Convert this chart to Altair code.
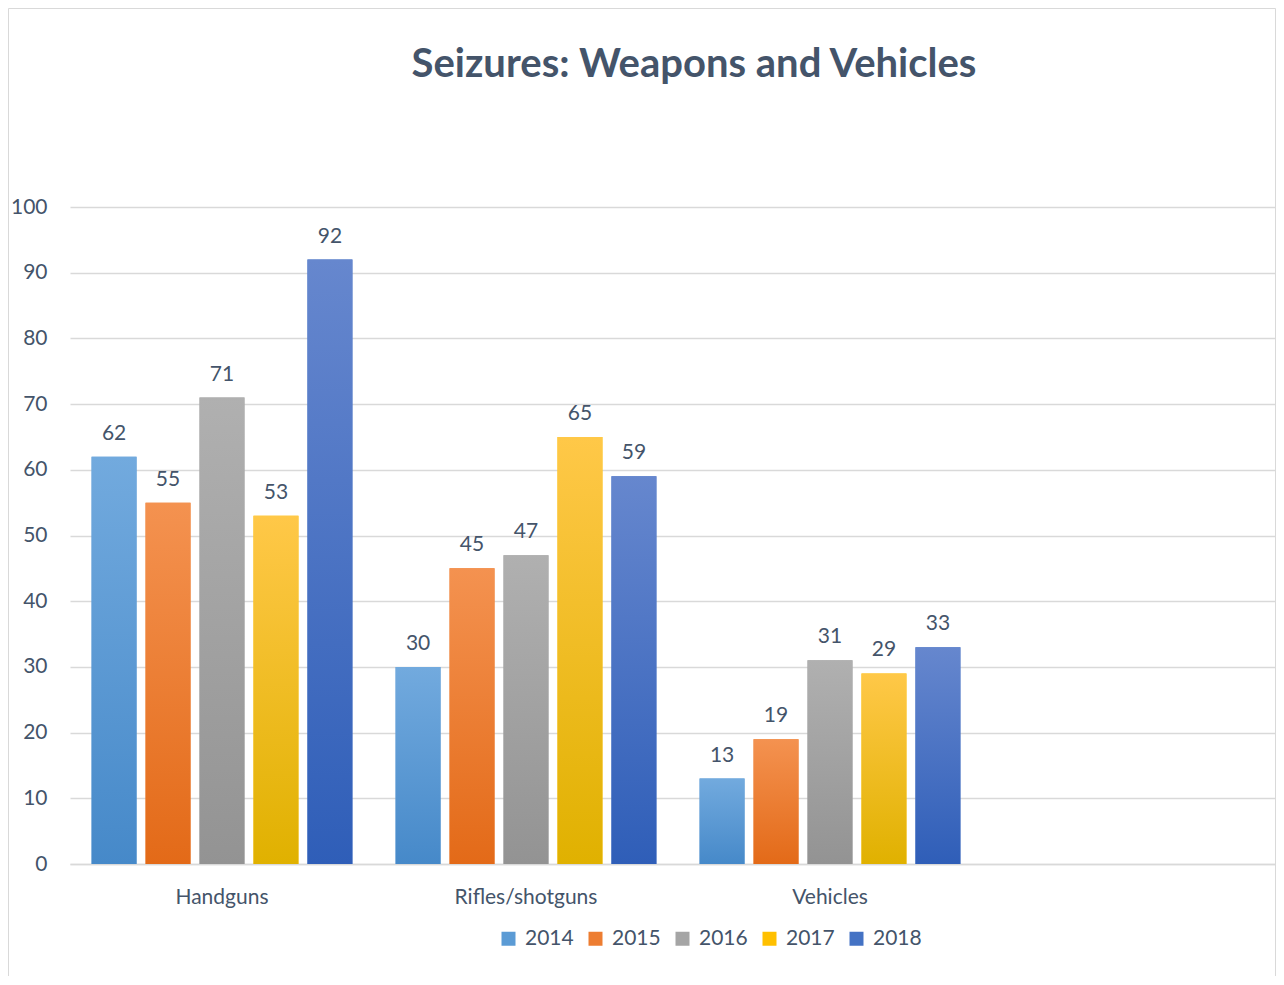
import altair as alt
import pandas as pd

categories = ["Handguns", "Rifles/shotguns", "Vehicles"]
years = ["2014", "2015", "2016", "2017", "2018"]
v2014 = [62, 30, 13]
v2015 = [55, 45, 19]
v2016 = [71, 47, 31]
v2017 = [53, 65, 29]
v2018 = [92, 59, 33]
series = {"2014": v2014, "2015": v2015, "2016": v2016, "2017": v2017, "2018": v2018}

base_colors = ["#5B9BD5", "#ED7D31", "#A5A5A5", "#FFC000", "#4472C4"]
grad_top = ["#72AADE", "#F49250", "#B0B0B0", "#FFC848", "#6687CE"]
grad_bottom = ["#4689C9", "#E36A18", "#939393", "#E0B100", "#2F5EB8"]

rows = []
for yr in years:
    for c, v in zip(categories, series[yr]):
        rows.append({"category": c, "year": yr, "value": v})
df = pd.DataFrame(rows)

x_domain = categories + [" "]
TXT = "#44546A"
FONT = "Lato"
W, H = 1206, 657

x_enc = alt.X(
    "category:N",
    scale=alt.Scale(domain=x_domain, paddingInner=0, paddingOuter=0, range=[0, 1216]),
    axis=alt.Axis(title=None, labelAngle=0, ticks=False, labelPadding=22,
                  labelFontSize=21, labelFont=FONT, labelColor=TXT,
                  domainColor="#D9D9D9", domainWidth=1.5, grid=False),
)
xo_enc = alt.XOffset("year:N", scale=alt.Scale(domain=years, paddingInner=0.167, paddingOuter=0.4))
y_enc = alt.Y(
    "value:Q",
    scale=alt.Scale(domain=[0, 100], nice=False),
    axis=alt.Axis(title=None, values=list(range(0, 101, 10)), ticks=False, domain=False,
                  labelPadding=23, labelFontSize=21, labelFont=FONT, labelColor=TXT,
                  gridColor="#D9D9D9", gridWidth=1.5),
)

base = alt.Chart(df).mark_bar().encode(
    x=x_enc, xOffset=xo_enc, y=y_enc,
    color=alt.Color("year:N", scale=alt.Scale(domain=years, range=base_colors),
                    legend=alt.Legend(orient="none", direction="horizontal", legendX=428, legendY=721,
                                      title=None, symbolType="square", symbolSize=196,
                                      symbolStrokeWidth=0, labelFontSize=21, labelFont=FONT,
                                      labelColor=TXT, columnPadding=11, labelOffset=6, padding=0)),
)

layers = [base]
for i, yr in enumerate(years):
    grad = alt.Gradient(
        gradient="linear",
        stops=[alt.GradientStop(color=grad_top[i], offset=0),
               alt.GradientStop(color=grad_bottom[i], offset=1)],
        x1=0, x2=0, y1=0, y2=1,
    )
    layers.append(
        alt.Chart(df).transform_filter(alt.datum.year == yr).mark_bar(color=grad).encode(
            x=x_enc, xOffset=xo_enc, y=y_enc)
    )

labels = alt.Chart(df).mark_text(dy=-17, baseline="alphabetic", fontSize=21, font=FONT, color=TXT).encode(
    x=x_enc, xOffset=xo_enc, y=y_enc, text="value:Q")
layers.append(labels)

border = alt.Chart(pd.DataFrame({"b": [0]})).mark_rect(filled=False, stroke="#D9D9D9", strokeWidth=1).encode(
    x=alt.value(-61.5), x2=alt.value(W - 0.5), y=alt.value(-198.5), y2=alt.value(780))
layers.append(border)

chart = alt.layer(*layers).properties(
    width=W, height=H,
    autosize=alt.AutoSizeParams(type="none"),
    padding={"left": 62, "top": 199, "right": 0, "bottom": 112},
    title=alt.TitleParams("Seizures: Weapons and Vehicles", fontSize=40, font=FONT, fontWeight="bold",
                          color=TXT, offset=-77, dx=21, anchor="middle", frame="group"),
).configure_view(stroke=None)

chart.save("out.html", embed_options={"renderer": "svg", "actions": False})
